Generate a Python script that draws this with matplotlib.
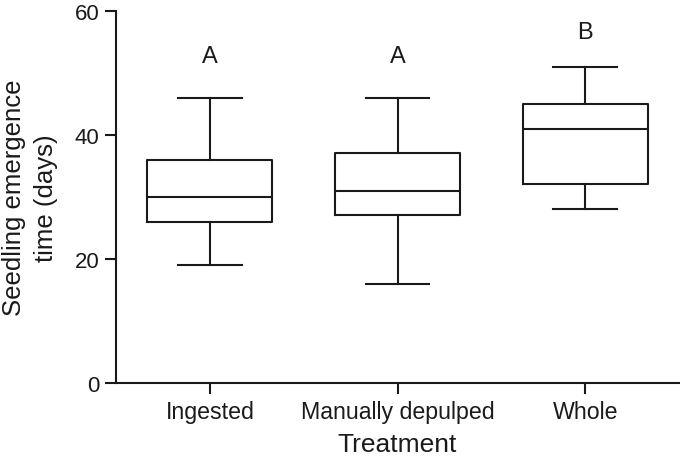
import matplotlib
matplotlib.use("Agg")
import matplotlib.pyplot as plt

categories = ["Ingested", "Manually depulped", "Whole"]
whislo = [19, 16, 28]
q1 = [26, 27, 32]
med = [30, 31, 41]
q3 = [36, 37, 45]
whishi = [46, 46, 51]
letters = ["A", "A", "B"]
letter_y = [52.7, 52.7, 56.6]

plt.rcParams['font.family'] = ['Liberation Sans', 'DejaVu Sans']

fig = plt.figure(figsize=(6.8, 4.6), dpi=100)
ax = fig.add_axes([0.1706, 0.1652, 0.828, 0.8094])

stats = []
for i in range(len(categories)):
    stats.append(dict(label=categories[i], whislo=whislo[i], q1=q1[i], med=med[i],
                      q3=q3[i], whishi=whishi[i], fliers=[]))

lw = 1.5
ax.bxp(stats, positions=[1, 2, 3], widths=0.665, showfliers=False,
       boxprops=dict(color='#1a1a1a', linewidth=lw),
       whiskerprops=dict(color='#1a1a1a', linewidth=lw),
       capprops=dict(color='#1a1a1a', linewidth=lw),
       medianprops=dict(color='#1a1a1a', linewidth=lw),
       capwidths=0.34)

for i, t in enumerate(letters):
    ax.text(i + 1, letter_y[i], t, ha='center', va='center', fontsize=17, color='#1a1a1a')

ax.set_xlim(0.5, 3.5)
ax.set_ylim(0, 60)
ax.set_yticks([0, 20, 40, 60])
ax.set_xticks([1, 2, 3])
ax.set_xticklabels(categories, fontsize=16.7)
for s in ['top', 'right']:
    ax.spines[s].set_visible(False)
for s in ['left', 'bottom']:
    ax.spines[s].set_linewidth(1.5)
    ax.spines[s].set_color('#1a1a1a')
ax.tick_params(axis='both', length=8, width=1.5, color='#1a1a1a', labelsize=16,
               labelcolor='#1a1a1a', pad=4)
ax.tick_params(axis='x', labelsize=16.7)
ax.set_xlabel("Treatment", fontsize=19, color='#1a1a1a', labelpad=7)
ax.set_ylabel("Seedling emergence\ntime (days)", fontsize=18.5, color='#1a1a1a',
              labelpad=12, linespacing=1.4)

fig.savefig("out.png", dpi=100)
